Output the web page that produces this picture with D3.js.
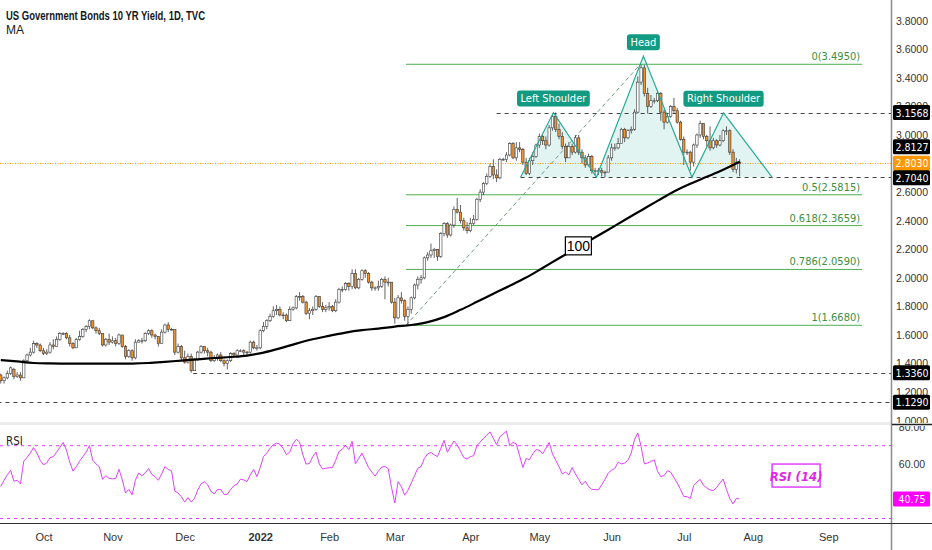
<!DOCTYPE html>
<html>
<head>
<meta charset="utf-8">
<script src="https://cdn.jsdelivr.net/npm/d3@7"></script>
<style>
  html, body { margin: 0; padding: 0; background: #fff; }
  svg { display: block; font-family: "Liberation Sans Narrow", "DejaVu Sans Condensed", "Liberation Sans", sans-serif; }
</style>
</head>
<body>
<svg id="chart" width="932" height="550"></svg>
<script>
// first bar of the series, every weekday after it is one bar
var START_DATE = "2021-09-14";

// daily candles [open, high, low, close]
var candles = [
  [1.32,1.33,1.26,1.28],[1.28,1.31,1.26,1.30],[1.30,1.35,1.29,1.33],[1.33,1.38,1.32,1.37],[1.36,1.37,1.29,1.31],
  [1.31,1.34,1.30,1.32],[1.32,1.34,1.28,1.30],[1.30,1.43,1.30,1.42],[1.42,1.47,1.40,1.46],[1.46,1.51,1.45,1.48],
  [1.48,1.56,1.47,1.54],[1.54,1.55,1.51,1.53],[1.53,1.54,1.48,1.49],
  [1.49,1.51,1.46,1.47],[1.47,1.50,1.46,1.48],[1.48,1.55,1.47,1.53],[1.53,1.57,1.50,1.52],[1.52,1.59,1.52,1.57],
  [1.57,1.62,1.56,1.61],[1.61,1.62,1.60,1.61],[1.61,1.62,1.57,1.58],[1.58,1.60,1.52,1.54],[1.54,1.55,1.50,1.51],
  [1.51,1.58,1.51,1.57],[1.57,1.63,1.56,1.59],[1.59,1.65,1.58,1.64],[1.64,1.67,1.62,1.66],[1.66,1.71,1.64,1.70],
  [1.70,1.70,1.64,1.65],[1.65,1.66,1.61,1.63],[1.63,1.65,1.60,1.61],[1.61,1.61,1.52,1.53],[1.53,1.58,1.52,1.57],
  [1.57,1.61,1.53,1.55],
  [1.55,1.59,1.54,1.56],[1.56,1.58,1.52,1.54],[1.54,1.61,1.53,1.60],[1.60,1.60,1.51,1.52],[1.52,1.53,1.43,1.45],
  [1.45,1.50,1.44,1.49],[1.49,1.50,1.42,1.44],[1.44,1.57,1.43,1.55],[1.55,1.57,1.55,1.56],[1.56,1.58,1.54,1.56],
  [1.56,1.62,1.55,1.61],[1.61,1.64,1.60,1.63],[1.63,1.64,1.58,1.60],[1.60,1.61,1.57,1.59],[1.59,1.59,1.52,1.54],
  [1.54,1.64,1.54,1.62],[1.62,1.68,1.61,1.67],[1.67,1.69,1.62,1.64],[1.64,1.65,1.63,1.64],[1.64,1.64,1.46,1.48],
  [1.48,1.54,1.47,1.52],[1.52,1.53,1.42,1.44],
  [1.44,1.49,1.40,1.41],[1.41,1.47,1.40,1.45],[1.45,1.47,1.336,1.35],[1.35,1.44,1.35,1.43],[1.43,1.49,1.42,1.48],
  [1.48,1.53,1.47,1.52],[1.52,1.52,1.47,1.49],[1.49,1.51,1.45,1.48],[1.48,1.49,1.41,1.42],[1.42,1.46,1.41,1.44],
  [1.44,1.47,1.42,1.46],[1.46,1.48,1.41,1.42],[1.42,1.43,1.38,1.40],[1.40,1.43,1.36,1.42],[1.42,1.48,1.41,1.47],
  [1.47,1.48,1.45,1.46],[1.46,1.50,1.45,1.49],[1.49,1.50,1.48,1.49],[1.49,1.50,1.46,1.48],[1.48,1.49,1.46,1.48],
  [1.48,1.56,1.47,1.55],[1.55,1.56,1.50,1.51],[1.51,1.53,1.49,1.51],
  [1.51,1.64,1.50,1.63],[1.63,1.69,1.62,1.66],[1.66,1.71,1.64,1.70],[1.70,1.75,1.69,1.73],[1.73,1.80,1.72,1.77],
  [1.77,1.81,1.74,1.78],[1.78,1.80,1.73,1.74],[1.74,1.76,1.71,1.74],[1.74,1.75,1.69,1.70],[1.70,1.80,1.70,1.78],
  [1.78,1.80,1.77,1.79],[1.79,1.88,1.78,1.87],[1.87,1.90,1.84,1.87],[1.87,1.88,1.82,1.83],[1.83,1.84,1.74,1.75],
  [1.75,1.79,1.71,1.77],[1.77,1.80,1.74,1.78],[1.78,1.88,1.77,1.87],[1.87,1.87,1.79,1.80],[1.80,1.83,1.76,1.78],
  [1.78,1.81,1.76,1.79],
  [1.79,1.83,1.77,1.80],[1.80,1.81,1.76,1.77],[1.77,1.85,1.76,1.83],[1.83,1.93,1.82,1.92],[1.92,1.94,1.90,1.92],
  [1.92,1.97,1.91,1.96],[1.96,1.97,1.91,1.94],[1.94,2.06,1.92,2.03],[2.03,2.06,1.92,1.93],[1.93,2.00,1.92,1.99],
  [1.99,2.06,1.98,2.05],[2.05,2.06,2.00,2.03],[2.03,2.04,1.96,1.97],[1.97,1.98,1.91,1.93],[1.93,1.94,1.91,1.93],
  [1.93,1.98,1.91,1.94],[1.94,2.00,1.93,1.99],[1.99,2.01,1.85,1.97],[1.97,2.00,1.94,1.97],[1.97,1.97,1.82,1.83],
  [1.83,1.86,1.68,1.72],[1.72,1.88,1.71,1.86],[1.86,1.90,1.82,1.84],[1.84,1.85,1.70,1.73],[1.73,1.80,1.668,1.78],
  [1.78,1.87,1.75,1.86],[1.86,1.96,1.85,1.95],[1.95,2.01,1.92,1.99],[1.99,2.02,1.96,2.00],[2.00,2.15,1.99,2.14],
  [2.14,2.18,2.12,2.16],[2.16,2.24,2.14,2.19],[2.19,2.21,2.14,2.20],[2.20,2.20,2.12,2.15],[2.15,2.32,2.14,2.31],
  [2.31,2.39,2.29,2.38],[2.38,2.39,2.28,2.30],[2.30,2.38,2.29,2.37],[2.37,2.50,2.35,2.48],[2.48,2.56,2.45,2.46],
  [2.46,2.51,2.38,2.40],[2.40,2.42,2.33,2.35],[2.35,2.39,2.31,2.33],
  [2.33,2.42,2.32,2.38],[2.38,2.44,2.37,2.41],[2.41,2.56,2.40,2.55],[2.55,2.62,2.53,2.60],[2.60,2.67,2.58,2.66],
  [2.66,2.73,2.65,2.71],[2.71,2.80,2.70,2.78],[2.78,2.83,2.69,2.72],[2.72,2.76,2.67,2.70],[2.70,2.84,2.69,2.83],
  [2.83,2.84,2.82,2.83],[2.83,2.88,2.81,2.86],[2.86,2.95,2.85,2.94],[2.94,2.95,2.83,2.84],[2.84,2.95,2.82,2.91],
  [2.91,2.95,2.88,2.90],[2.90,2.91,2.79,2.81],[2.81,2.84,2.72,2.73],[2.73,2.84,2.72,2.82],[2.82,2.88,2.79,2.85],
  [2.85,2.94,2.84,2.93],
  [2.93,3.01,2.91,2.99],[2.99,3.00,2.93,2.96],[2.96,2.99,2.90,2.93],[2.93,3.07,2.92,3.05],[3.05,3.14,3.03,3.13],
  [3.13,3.157,3.02,3.04],[3.04,3.08,2.97,2.99],[2.99,3.02,2.90,2.92],[2.92,2.94,2.81,2.84],[2.84,2.95,2.84,2.92],
  [2.92,2.94,2.86,2.88],[2.88,3.00,2.87,2.98],[2.98,3.00,2.86,2.88],[2.88,2.90,2.80,2.84],[2.84,2.86,2.77,2.79],
  [2.79,2.87,2.78,2.85],[2.85,2.86,2.73,2.75],[2.75,2.77,2.72,2.75],[2.75,2.77,2.72,2.75],[2.75,2.77,2.71,2.74],
  [2.74,2.75,2.704,2.74],[2.74,2.86,2.74,2.84],
  [2.84,2.94,2.82,2.91],[2.91,2.94,2.89,2.91],[2.91,2.98,2.90,2.94],[2.94,3.05,2.94,3.04],[3.04,3.05,2.95,2.98],
  [2.98,3.04,2.97,3.03],[3.03,3.06,3.01,3.04],[3.04,3.18,3.03,3.16],[3.16,3.41,3.15,3.37],[3.37,3.495,3.35,3.47],
  [3.47,3.49,3.27,3.29],[3.29,3.33,3.15,3.20],[3.20,3.28,3.19,3.24],[3.24,3.26,3.22,3.24],[3.24,3.31,3.23,3.29],
  [3.29,3.30,3.10,3.16],[3.16,3.18,3.04,3.09],[3.09,3.15,3.08,3.13],[3.13,3.21,3.12,3.20],[3.20,3.26,3.15,3.17],
  [3.17,3.19,3.08,3.09],[3.09,3.10,2.96,2.97],
  [2.97,2.99,2.79,2.88],[2.88,2.90,2.86,2.88],[2.88,2.89,2.75,2.81],[2.81,2.94,2.78,2.93],[2.93,3.01,2.91,3.00],
  [3.00,3.10,2.98,3.08],[3.08,3.08,2.97,2.99],[2.99,3.00,2.92,2.96],[2.96,3.06,2.89,2.91],[2.91,2.98,2.90,2.96],
  [2.96,2.97,2.91,2.93],[2.93,3.00,2.92,2.96],[2.96,3.04,2.95,3.03],[3.03,3.06,3.00,3.03],[3.03,3.04,2.86,2.88],
  [2.88,2.90,2.74,2.76],[2.76,2.84,2.73,2.81],[2.81,2.83,2.71,2.803]
];

// RSI(14), one value per bar
var rsiValues = [
  47.5,51,54,56.5,50.5,51,49,61.5,63.5,66,
  69,66,62,59.5,60.5,63.5,64,66.5,69,71.8,
  67.6,61,56,58.5,61.5,64,66.5,70,62,60,
  58.5,51.5,53.5,52,51.8,52,57,51.5,44,46,
  43,51,55,53.5,55,57.5,54.2,53,51,54.5,
  58.5,57,56.2,45,44,42,39,41.5,39,41,
  45.7,49,50.2,48.5,45,43.5,46,46,43.2,43.3,
  46,48,49,51.6,51.2,50.3,54,57,53,58,
  64,66,68.5,70.6,71.4,70.8,68.5,65,66.5,71,
  73.5,72,65,59.9,60.2,64,66.5,60,57.2,57.6,
  57.9,58,62,66.8,68,70.2,67.8,72.4,60,63,
  66,62,58,55.5,53.3,56,58.3,58.5,57.4,47,
  38.5,50.3,47.5,42.8,45.5,49.5,53.5,57.6,58.5,63,
  65.5,66.3,65,64,68.5,73,66.4,69.5,72.6,70.5,
  67,63.5,62.7,64,64.5,70,72,74,75.8,77.6,
  74,70.5,74.9,76.4,78,70,71.8,71,64.5,58,
  63,62.3,65.5,67.8,67.6,65.5,68.5,71.8,65.5,62,
  58.5,54.5,55.5,54,58,54.5,51.5,48.5,50.5,47.5,
  46,45.9,45.7,48.5,51.5,55,56.5,57.5,61,60,
  60.5,62,66,73.5,77,69.5,60,60.5,61.3,62.2,
  56,53,53.5,56.2,55.5,52.5,49.5,46,42.1,42,
  41,48,50,51.5,48.2,46.8,45.7,45.4,47,49.5,
  51.7,46,41,38,41.1,40.75
];

// 100-day moving average, read every 5th bar [bar, value]
var maPoints = [
  [0,1.424],[5,1.415],[10,1.404],[15,1.401],[20,1.400],[25,1.399],[30,1.399],[35,1.399],[40,1.400],
  [45,1.404],[50,1.412],[55,1.421],[60,1.430],[65,1.439],[70,1.446],[75,1.456],[80,1.477],[85,1.506],
  [90,1.540],[95,1.570],[100,1.594],[105,1.617],[110,1.634],[115,1.645],[120,1.659],[125,1.670],
  [130,1.690],[135,1.725],[140,1.776],[145,1.832],[150,1.889],[155,1.944],[160,2.002],[165,2.069],
  [170,2.137],[175,2.203],[180,2.270],[185,2.337],[190,2.405],[195,2.472],[200,2.539],[205,2.605],
  [210,2.659],[215,2.707],[220,2.756],[225,2.812]
];

var priceTicks = [3.8, 3.6, 3.4, 3.2, 3.0, 2.8, 2.6, 2.4, 2.2, 2.0, 1.8, 1.6, 1.4, 1.2, 1.0];
var rsiTicks = [80, 60];
var rsiBands = [70, 30];
var monthTicks = [
  ["2021-10-01", "Oct"], ["2021-11-01", "Nov"], ["2021-12-01", "Dec"], ["2022-01-03", "2022"],
  ["2022-02-01", "Feb"], ["2022-03-01", "Mar"], ["2022-04-01", "Apr"], ["2022-05-02", "May"],
  ["2022-06-01", "Jun"], ["2022-07-01", "Jul"], ["2022-08-01", "Aug"], ["2022-09-01", "Sep"]
];

// fibonacci retracement [ratio, price], drawn between two bars
var fibLevels = [[0, 3.4950], [0.5, 2.5815], [0.618, 2.3659], [0.786, 2.0590], [1, 1.6680]];
var fibBars = [123.4, 262.3];
// horizontal dashed levels [price, first bar]
var levelLines = [[3.1568, 151.0], [2.7040, 158.3], [1.3360, 58.6], [1.1290, -1]];
// head & shoulders anchors [bar, price]
var patternPoints = [[158.3, 2.704], [168.3, 3.1568], [181.4, 2.704], [195.7, 3.552], [210.5, 2.704], [220.1, 3.155], [234.9, 2.704]];
var patternLabels = [["Left Shoulder", 1], ["Head", 3], ["Right Shoulder", 5]];

var lastPrice = 2.8030, maLast = 2.8127, rsiLast = 40.75;

var W = 932, H = 550, AXIS_X = 891;
var PRICE_BOTTOM = 423, RSI_TOP = 426, RSI_BOTTOM = 523;
var ORANGE = "#f0922e", MAGENTA = "#e040fb", TEAL = "#22ab94", FIB = "#4caf50";

/**
 * Weekdays starting at a date, one per bar.
 */
function tradingDays(startStr, count) {
    var out = [];
    var d = new Date(startStr + "T00:00:00Z");
    while (out.length < count) {
        var wd = d.getUTCDay();
        if (wd !== 0 && wd !== 6) {
            out.push(d.toISOString().slice(0, 10));
        }
        d = new Date(d.getTime() + 86400000);
    }
    return out;
}
var days = tradingDays(START_DATE, 280);

var x = d3.scaleLinear().domain([-0.231, 271.1]).range([0, AXIS_X]);
var y = d3.scaleLinear().domain([0.984, 3.945]).range([PRICE_BOTTOM, 0]);
var ry = d3.scaleLinear().domain([30, 70]).range([518.5, 445.7]);

var svg = d3.select("#chart");
svg.append("rect").attr("width", W).attr("height", H).attr("fill", "#fff");

var defs = svg.append("defs");
defs.append("clipPath").attr("id", "clipPrice").append("rect")
    .attr("x", 0).attr("y", 0).attr("width", AXIS_X).attr("height", PRICE_BOTTOM);
defs.append("clipPath").attr("id", "clipRsi").append("rect")
    .attr("x", 0).attr("y", RSI_TOP).attr("width", AXIS_X).attr("height", RSI_BOTTOM - RSI_TOP);
defs.append("clipPath").attr("id", "clipAxisPrice").append("rect")
    .attr("x", 0).attr("y", 0).attr("width", W - AXIS_X).attr("height", PRICE_BOTTOM);
defs.append("clipPath").attr("id", "clipAxisRsi").append("rect")
    .attr("x", 0).attr("y", RSI_TOP).attr("width", W - AXIS_X).attr("height", RSI_BOTTOM - RSI_TOP);

var pane = svg.append("g").attr("clip-path", "url(#clipPrice)");

// head & shoulders fill
var patternLine = d3.line().x(function (d) { return x(d[0]); }).y(function (d) { return y(d[1]); });
pane.append("path").attr("d", patternLine(patternPoints) + "Z")
    .attr("fill", TEAL).attr("fill-opacity", 0.13).attr("stroke", "none");

// fibonacci levels
fibLevels.forEach(function (f) {
    pane.append("line")
        .attr("x1", x(fibBars[0])).attr("x2", x(fibBars[1]))
        .attr("y1", y(f[1])).attr("y2", y(f[1]))
        .attr("stroke", FIB).attr("stroke-width", 1);
    pane.append("text")
        .attr("x", x(fibBars[1]) - 2).attr("y", y(f[1]) - 4)
        .attr("text-anchor", "end").attr("font-size", 11).attr("fill", "#3d8f40")
        .text(f[0] + "(" + f[1].toFixed(4) + ")");
});
pane.append("line")
    .attr("x1", x(fibBars[0])).attr("y1", y(fibLevels[4][1]))
    .attr("x2", x(patternPoints[3][0]) - 3).attr("y2", y(fibLevels[0][1]))
    .attr("stroke", "#6f9a7e").attr("stroke-width", 1).attr("stroke-dasharray", "4,3");

// dashed levels
levelLines.forEach(function (l) {
    pane.append("line")
        .attr("x1", x(l[1])).attr("x2", AXIS_X)
        .attr("y1", Math.round(y(l[0])) + 0.5).attr("y2", Math.round(y(l[0])) + 0.5)
        .attr("stroke", "#444").attr("stroke-width", 1).attr("stroke-dasharray", "4,4");
});

// last price dotted line
pane.append("line")
    .attr("x1", 0).attr("x2", AXIS_X)
    .attr("y1", Math.round(y(lastPrice)) + 0.5).attr("y2", Math.round(y(lastPrice)) + 0.5)
    .attr("stroke", "#ff9800").attr("stroke-width", 1).attr("stroke-dasharray", "1,1.5");

// candles
var bars = pane.append("g").selectAll("g").data(candles).enter().append("g");
bars.append("line")
    .attr("x1", function (d, i) { return x(i); }).attr("x2", function (d, i) { return x(i); })
    .attr("y1", function (d) { return y(d[1]); }).attr("y2", function (d) { return y(d[2]); })
    .attr("stroke", "#3a3a3a").attr("stroke-width", 0.8);
bars.append("rect")
    .attr("x", function (d, i) { return x(i) - 1.2; })
    .attr("width", 2.4)
    .attr("y", function (d) { return y(Math.max(d[0], d[3])); })
    .attr("height", function (d) { return Math.max(0.8, Math.abs(y(d[0]) - y(d[3]))); })
    .attr("fill", function (d) { return d[3] >= d[0] ? "#fff" : ORANGE; })
    .attr("stroke", "#3a3a3a").attr("stroke-width", 0.6);

// MA 100
var maLine = d3.line().curve(d3.curveMonotoneX)
    .x(function (d) { return x(d[0]); }).y(function (d) { return y(d[1]); });
pane.append("path").attr("d", maLine(maPoints))
    .attr("fill", "none").attr("stroke", "#000").attr("stroke-width", 2.2);

// pattern outline and tags
pane.append("path").attr("d", patternLine(patternPoints))
    .attr("fill", "none").attr("stroke", TEAL).attr("stroke-width", 1.2);
patternLabels.forEach(function (p) {
    var pt = patternPoints[p[1]];
    var cx = x(pt[0]), bottom = y(pt[1]) - 6;
    var g = pane.append("g");
    var t = g.append("text").attr("x", cx).attr("y", bottom - 4.5)
        .attr("text-anchor", "middle").attr("font-size", 11).attr("fill", "#fff").text(p[0]);
    var w = t.node().getComputedTextLength() + 7;
    g.insert("rect", "text").attr("x", cx - w / 2).attr("y", bottom - 16).attr("width", w).attr("height", 16)
        .attr("rx", 3).attr("fill", "#119b82");
});

// "100" tag on the MA
var tagPt = maPoints[35];
var tag = pane.append("g").attr("transform", "translate(" + x(tagPt[0] + 0.9) + "," + (y(tagPt[1]) - 3) + ")");
tag.append("rect").attr("x", -13).attr("y", -9).attr("width", 26).attr("height", 18)
    .attr("fill", "#fff").attr("stroke", "#000").attr("stroke-width", 1.2);
tag.append("text").attr("y", 5).attr("text-anchor", "middle").attr("font-size", 14)
    .attr("font-family", "Liberation Sans, sans-serif").attr("fill", "#000").text("100");

// pane separator
svg.append("rect").attr("x", 0).attr("y", 422).attr("width", AXIS_X).attr("height", 3).attr("fill", "#ececef");

// RSI pane
var rsiPane = svg.append("g").attr("clip-path", "url(#clipRsi)");
rsiBands.forEach(function (b) {
    rsiPane.append("line").attr("x1", 0).attr("x2", AXIS_X)
        .attr("y1", ry(b)).attr("y2", ry(b))
        .attr("stroke", MAGENTA).attr("stroke-width", 1).attr("stroke-dasharray", "3,4");
});
var rsiLine = d3.line().x(function (d, i) { return x(i); }).y(function (d) { return ry(d); });
rsiPane.append("path").attr("d", rsiLine(rsiValues))
    .attr("fill", "none").attr("stroke", MAGENTA).attr("stroke-width", 1);

var rsiTag = svg.append("g").attr("transform", "translate(" + x(242.2) + "," + ry(53.6) + ")");
rsiTag.append("rect").attr("x", -24).attr("y", -11.5).attr("width", 48).attr("height", 23)
    .attr("fill", "#fff").attr("stroke", MAGENTA).attr("stroke-width", 1.5);
rsiTag.append("text").attr("y", 5).attr("text-anchor", "middle")
    .attr("font-size", 13).attr("font-style", "italic").attr("font-weight", "bold")
    .attr("fill", "#e026e8").text("RSI (14)");

svg.append("text").attr("x", 6).attr("y", 445).attr("font-size", 11.5).attr("fill", "#222").text("RSI");

// price axis
var axisG = svg.append("g").attr("transform", "translate(" + AXIS_X + ",0)");
axisG.append("line").attr("x1", 0.5).attr("x2", 0.5).attr("y1", 0).attr("y2", H)
    .attr("stroke", "#8c8c8c").attr("stroke-width", 1.5);
var priceAxis = d3.axisRight(y).tickValues(priceTicks).tickSize(0).tickFormat(d3.format(".4f"));
var pa = axisG.append("g").attr("clip-path", "url(#clipAxisPrice)").call(priceAxis);
pa.select(".domain").remove();
pa.selectAll("text").attr("x", 21).attr("text-anchor", "middle")
    .attr("font-size", 10.5).attr("fill", "#333").attr("font-family", null);

var rsiAxis = d3.axisRight(ry).tickValues(rsiTicks).tickSize(0).tickFormat(d3.format(".2f"));
var ra = axisG.append("g").attr("clip-path", "url(#clipAxisRsi)").call(rsiAxis);
ra.select(".domain").remove();
ra.selectAll("text").attr("x", 21).attr("text-anchor", "middle")
    .attr("font-size", 10.5).attr("fill", "#333").attr("font-family", null);
axisG.append("line").attr("x1", 1).attr("x2", W - AXIS_X).attr("y1", 424.5).attr("y2", 424.5)
    .attr("stroke", "#222").attr("stroke-width", 1.5);

/**
 * Coloured value tag on the price axis.
 */
function axisTag(cy, label, bg, fg) {
    var g = axisG.append("g").attr("transform", "translate(2," + cy + ")");
    g.append("rect").attr("x", 0).attr("y", -7.5).attr("width", 37).attr("height", 15).attr("rx", 1.5).attr("fill", bg);
    g.append("text").attr("x", 19).attr("y", 4).attr("text-anchor", "middle")
        .attr("font-size", 10.5).attr("fill", fg).text(label);
}
axisTag(y(levelLines[0][0]), levelLines[0][0].toFixed(4), "#000", "#fff");
axisTag(y(lastPrice) - 16.5, maLast.toFixed(4), "#000", "#fff");
axisTag(y(lastPrice), lastPrice.toFixed(4), "#ff9800", "#fff");
axisTag(y(levelLines[1][0]) + 0.5, levelLines[1][0].toFixed(4), "#000", "#fff");
axisTag(y(levelLines[2][0]), levelLines[2][0].toFixed(4), "#000", "#fff");
axisTag(y(levelLines[3][0]), levelLines[3][0].toFixed(4), "#000", "#fff");
axisTag(ry(rsiLast), rsiLast.toFixed(2), "#ff00ff", "#fff");

// time axis
svg.append("line").attr("x1", 0).attr("x2", W).attr("y1", 523.5).attr("y2", 523.5)
    .attr("stroke", "#333").attr("stroke-width", 1.2);
var tickIdx = monthTicks.map(function (m) { return days.indexOf(m[0]); });
var timeAxis = d3.axisBottom(x).tickValues(tickIdx).tickSize(0)
    .tickFormat(function (d, i) { return monthTicks[i][1]; });
var ta = svg.append("g").attr("transform", "translate(0,524)").call(timeAxis);
ta.select(".domain").remove();
ta.selectAll("text").attr("y", 17).attr("dy", null)
    .attr("font-size", 11).attr("fill", "#333").attr("font-family", null)
    .attr("font-weight", function (d, i) { return monthTicks[i][1] === "2022" ? "bold" : null; });

// title
svg.append("text").attr("x", 6).attr("y", 20).attr("font-size", 12.5).attr("font-weight", "bold")
    .attr("fill", "#131722").attr("font-family", "Liberation Sans, sans-serif")
    .attr("textLength", 199).attr("lengthAdjust", "spacingAndGlyphs")
    .text("US Government Bonds 10 YR Yield, 1D, TVC");
svg.append("text").attr("x", 6).attr("y", 34).attr("font-size", 12)
    .attr("fill", "#131722").attr("font-family", "Liberation Sans, sans-serif").text("MA");
</script>
</body>
</html>
